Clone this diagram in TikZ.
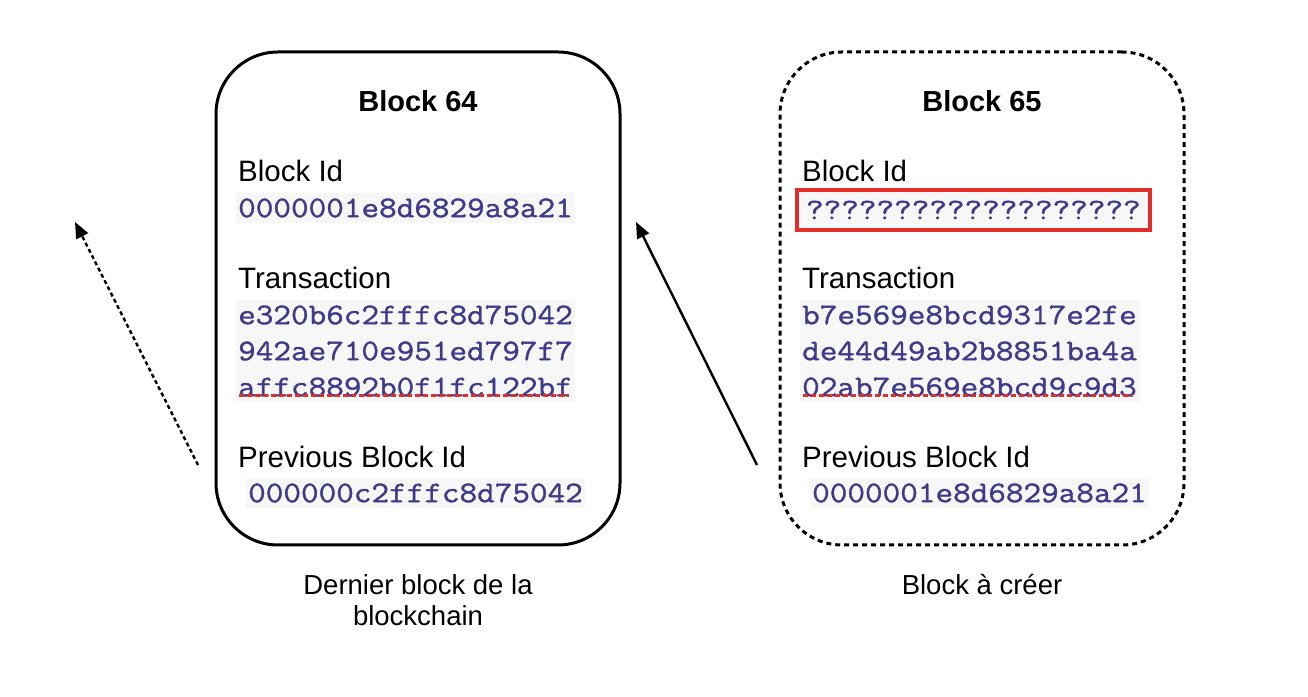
\documentclass[tikz,border=0pt]{standalone}
\usepackage{fontspec}
\setmainfont{Liberation Sans}
\newfontfamily\hashfont[FakeStretch=1.14,FakeBold=1.2]{Latin Modern Mono}
\usetikzlibrary{arrows.meta}
\definecolor{hashblue}{RGB}{62,58,140}
\definecolor{hashbg}{RGB}{247,247,248}
\definecolor{alertred}{RGB}{226,46,40}

\begin{document}
\begin{tikzpicture}[x=1pt, y=1pt]
    % Common Styles
    \tikzset{blockframe/.style={draw, line width=3pt, rounded corners=62pt, minimum width=404pt, minimum height=493pt}}
    \tikzset{blocktitle/.style={font=\fontsize{29}{34}\selectfont\bfseries}}
    \tikzset{fieldname/.style={anchor=west, inner sep=0pt, font=\fontsize{29.5}{34}\selectfont}}
    \tikzset{hash/.style={anchor=west, fill=hashbg, inner xsep=2pt, inner ysep=5pt, text=hashblue, align=left, font=\hashfont\fontsize{30}{36}\selectfont}}
    \tikzset{spellmark/.style={alertred, line width=3pt, dash pattern=on 5pt off 3pt}}
    \tikzset{caption/.style={align=center, font=\fontsize{27.5}{31}\selectfont}}
    \tikzset{link/.style={line width=2.4pt, -{Triangle[length=16pt,width=13pt]}}}

    \useasboundingbox (0,0) rectangle (1308,696);

    % 1. Last block of the chain
    \node[blockframe] (B64) at (418,397.5) {};
    \node[blocktitle] (title64) at (418,595) {Block 64};
    \node[fieldname] (id64) at (238,525) {Block Id};
    \node[hash] (hid64) at (236,488) {0000001e8d6829a8a21};
    \node[fieldname] (tx64) at (238,418) {Transaction};
    \node[hash] (htx64) at (236,345) {e320b6c2fffc8d75042\\942ae710e951ed797f7\\affc8892b0f1fc122bf};
    \draw[spellmark] ([shift={(3,6)}]htx64.south west) -- ([shift={(-6,6)}]htx64.south east);
    \node[fieldname] (prev64) at (238,239) {Previous Block Id};
    \node[hash] (hprev64) at (246,203) {000000c2fffc8d75042};
    \node[caption] (cap64) at (418,96) {Dernier block de la\\blockchain};
    \coordinate (out64) at (198,231);
    \coordinate (in63) at (75,474);
    \draw[link, dash pattern=on 4pt off 3pt] (out64) -- (in63);

    % 2. Block to be created
    \begin{scope}[xshift=564pt]
        \node[blockframe, dash pattern=on 5pt off 4pt] (B65) at (418,397.5) {};
        \node[blocktitle] (title65) at (418,595) {Block 65};
        \node[fieldname] (id65) at (238,525) {Block Id};
        \node[hash, draw=alertred, line width=4pt, inner xsep=9pt, inner ysep=11pt] (hid65) at (231,486) {???????????????????};
        \node[fieldname] (tx65) at (238,418) {Transaction};
        \node[hash] (htx65) at (236,345) {b7e569e8bcd9317e2fe\\de44d49ab2b8851ba4a\\02ab7e569e8bcd9c9d3};
        \draw[spellmark] ([shift={(3,6)}]htx65.south west) -- ([shift={(-6,6)}]htx65.south east);
        \node[fieldname] (prev65) at (238,239) {Previous Block Id};
        \node[hash] (hprev65) at (246,203) {0000001e8d6829a8a21};
        \node[caption] (cap65) at (418,111) {Block à créer};
        \coordinate (out65) at (193,231);
        \coordinate (in64) at (72,474);
        \draw[link] (out65) -- (in64);
    \end{scope}
\end{tikzpicture}
\end{document}
